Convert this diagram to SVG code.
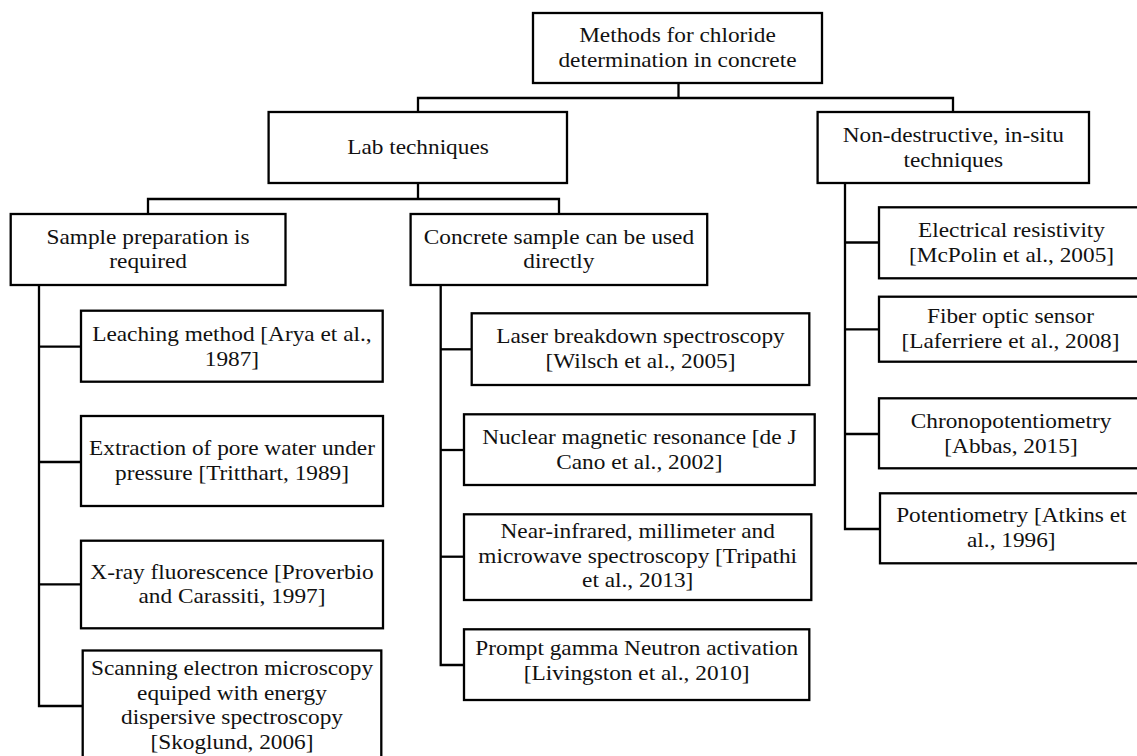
<svg xmlns="http://www.w3.org/2000/svg" width="1137" height="756" viewBox="0 0 1137 756">
<style>
.box{fill:#fff;stroke:#000;stroke-width:2.3}
.c{fill:none;stroke:#000;stroke-width:2.3}
text{font-family:'Liberation Serif','Times New Roman',Tinos,'DejaVu Serif',serif;font-size:21px;fill:#111;text-anchor:middle}
</style>
<rect width="1137" height="756" fill="#fff"/>
<g id="connectors">
<polyline class="c" points="678.5,83 678.5,98"/>
<polyline class="c" points="418,112 418,98 953,98 953,112"/>
<polyline class="c" points="418,183 418,199"/>
<polyline class="c" points="148,214 148,199 559,199 559,214"/>
<polyline class="c" points="39,285 39,706 82.7,706"/>
<line class="c" x1="39" y1="346.7" x2="81" y2="346.7"/>
<line class="c" x1="39" y1="462" x2="81" y2="462"/>
<line class="c" x1="39" y1="584.3" x2="81" y2="584.3"/>
<polyline class="c" points="440.7,285 440.7,665 464,665"/>
<line class="c" x1="440.7" y1="349.3" x2="471.7" y2="349.3"/>
<line class="c" x1="440.7" y1="450" x2="464" y2="450"/>
<line class="c" x1="440.7" y1="556.7" x2="464" y2="556.7"/>
<polyline class="c" points="845,183 845,529 880,529"/>
<line class="c" x1="845" y1="242.5" x2="879" y2="242.5"/>
<line class="c" x1="845" y1="329.3" x2="879" y2="329.3"/>
<line class="c" x1="845" y1="434" x2="879" y2="434"/>
</g>
<g id="root">
<rect class="box" x="533" y="13" width="289" height="70"/>
<text font-family="Liberation Serif, serif" transform="matrix(1.11 0 0 1 677.5 0)"><tspan x="0" y="42.3">Methods for chloride</tspan><tspan x="0" y="66.7">determination in concrete</tspan></text>
</g>
<g id="lab">
<rect class="box" x="268.6" y="112" width="298.4" height="71"/>
<text font-family="Liberation Serif, serif" transform="matrix(1.11 0 0 1 418 0)"><tspan x="0" y="154.5">Lab techniques</tspan></text>
</g>
<g id="nondestructive">
<rect class="box" x="817.6" y="112" width="271.4" height="71"/>
<text font-family="Liberation Serif, serif" transform="matrix(1.11 0 0 1 953.3 0)"><tspan x="0" y="142.5">Non-destructive, in-situ</tspan><tspan x="0" y="166.7">techniques</tspan></text>
</g>
<g id="sampleprep">
<rect class="box" x="10.7" y="214" width="274.8" height="71"/>
<text font-family="Liberation Serif, serif" transform="matrix(1.11 0 0 1 148.1 0)"><tspan x="0" y="244.5">Sample preparation is</tspan><tspan x="0" y="268.5">required</tspan></text>
</g>
<g id="concrete">
<rect class="box" x="410.6" y="214" width="296.6" height="71"/>
<text font-family="Liberation Serif, serif" transform="matrix(1.11 0 0 1 558.9 0)"><tspan x="0" y="244.5">Concrete sample can be used</tspan><tspan x="0" y="268.5">directly</tspan></text>
</g>
<g id="leaching">
<rect class="box" x="81" y="310.7" width="301.7" height="71"/>
<text font-family="Liberation Serif, serif" transform="matrix(1.11 0 0 1 231.9 0)"><tspan x="0" y="341.5">Leaching method [Arya et al.,</tspan><tspan x="0" y="366.5">1987]</tspan></text>
</g>
<g id="extraction">
<rect class="box" x="81" y="416" width="302" height="90"/>
<text font-family="Liberation Serif, serif" transform="matrix(1.11 0 0 1 232 0)"><tspan x="0" y="455.3">Extraction of pore water under</tspan><tspan x="0" y="480.3">pressure [Tritthart, 1989]</tspan></text>
</g>
<g id="xray">
<rect class="box" x="81" y="540.7" width="302" height="87.6"/>
<text font-family="Liberation Serif, serif" transform="matrix(1.11 0 0 1 232 0)"><tspan x="0" y="579.3">X-ray fluorescence [Proverbio</tspan><tspan x="0" y="603.5">and Carassiti, 1997]</tspan></text>
</g>
<g id="scanning">
<rect class="box" x="82.7" y="650.5" width="298.6" height="112"/>
<text font-family="Liberation Serif, serif" transform="matrix(1.11 0 0 1 232 0)"><tspan x="0" y="675">Scanning electron microscopy</tspan><tspan x="0" y="699.8">equiped with energy</tspan><tspan x="0" y="724.5">dispersive spectroscopy</tspan><tspan x="0" y="749">[Skoglund, 2006]</tspan></text>
</g>
<g id="laser">
<rect class="box" x="471.7" y="313.3" width="337.6" height="71.7"/>
<text font-family="Liberation Serif, serif" transform="matrix(1.11 0 0 1 640.5 0)"><tspan x="0" y="343.5">Laser breakdown spectroscopy</tspan><tspan x="0" y="368.3">[Wilsch et al., 2005]</tspan></text>
</g>
<g id="nmr">
<rect class="box" x="464" y="414.3" width="350.7" height="70.7"/>
<text font-family="Liberation Serif, serif" transform="matrix(1.11 0 0 1 639.3 0)"><tspan x="0" y="443.8">Nuclear magnetic resonance [de J</tspan><tspan x="0" y="468.8">Cano et al., 2002]</tspan></text>
</g>
<g id="nir">
<rect class="box" x="464" y="514.3" width="347.3" height="85.7"/>
<text font-family="Liberation Serif, serif" transform="matrix(1.11 0 0 1 637.7 0)"><tspan x="0" y="538.5">Near-infrared, millimeter and</tspan><tspan x="0" y="563">microwave spectroscopy [Tripathi</tspan><tspan x="0" y="587.5">et al., 2013]</tspan></text>
</g>
<g id="prompt">
<rect class="box" x="464" y="629.3" width="345.3" height="70.7"/>
<text font-family="Liberation Serif, serif" transform="matrix(1.11 0 0 1 636.7 0)"><tspan x="0" y="655.3">Prompt gamma Neutron activation</tspan><tspan x="0" y="680">[Livingston et al., 2010]</tspan></text>
</g>
<g id="electrical">
<rect class="box" x="879" y="207.3" width="266" height="71"/>
<text font-family="Liberation Serif, serif" transform="matrix(1.11 0 0 1 1011.5 0)"><tspan x="0" y="237.5">Electrical resistivity</tspan><tspan x="0" y="261.7">[McPolin et al., 2005]</tspan></text>
</g>
<g id="fiber">
<rect class="box" x="879" y="296.7" width="266" height="65"/>
<text font-family="Liberation Serif, serif" transform="matrix(1.11 0 0 1 1010.5 0)"><tspan x="0" y="323.5">Fiber optic sensor</tspan><tspan x="0" y="348.3">[Laferriere et al., 2008]</tspan></text>
</g>
<g id="chrono">
<rect class="box" x="879" y="398.3" width="266" height="70"/>
<text font-family="Liberation Serif, serif" transform="matrix(1.11 0 0 1 1011 0)"><tspan x="0" y="428.5">Chronopotentiometry</tspan><tspan x="0" y="453.3">[Abbas, 2015]</tspan></text>
</g>
<g id="potentio">
<rect class="box" x="880" y="493.3" width="265" height="70"/>
<text font-family="Liberation Serif, serif" transform="matrix(1.11 0 0 1 1011.3 0)"><tspan x="0" y="521.8">Potentiometry [Atkins et</tspan><tspan x="0" y="546.7">al., 1996]</tspan></text>
</g>
</svg>
